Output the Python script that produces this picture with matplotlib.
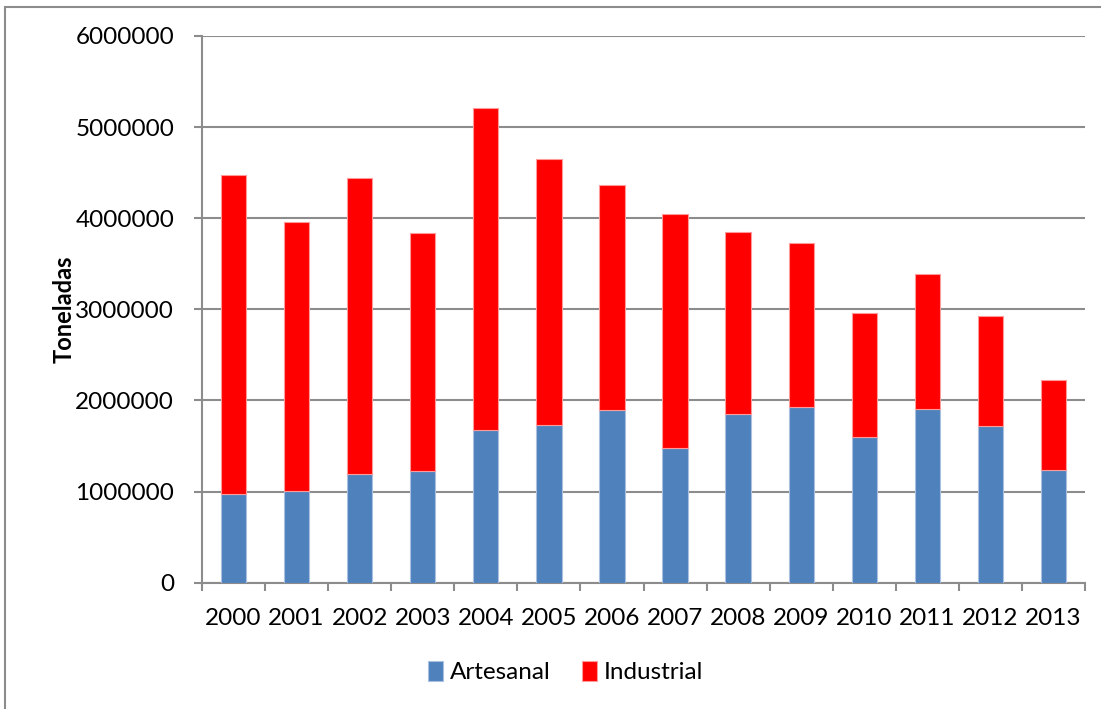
import matplotlib.pyplot as plt
from matplotlib.patches import Rectangle
import numpy as np

anios = ['2000', '2001', '2002', '2003', '2004', '2005', '2006',
         '2007', '2008', '2009', '2010', '2011', '2012', '2013']
artesanal = [977000, 1010000, 1190000, 1230000, 1680000, 1730000, 1890000,
             1475000, 1850000, 1930000, 1600000, 1910000, 1720000, 1240000]
total = [4475000, 3960000, 4440000, 3840000, 5210000, 4650000, 4370000,
         4050000, 3850000, 3730000, 2960000, 3390000, 2930000, 2220000]
industrial = [t - a for t, a in zip(total, artesanal)]

plt.rcParams['font.family'] = ['Lato', 'DejaVu Sans']

fig = plt.figure(figsize=(11.01, 7.09), dpi=100)
ax = fig.add_axes([202 / 1101, 1 - 582.7 / 709, 883 / 1101, (582.7 - 36) / 709])

x = np.arange(len(anios))
ax.bar(x, artesanal, width=0.4, color='#4F81BD', edgecolor='#A9C0E0',
       linewidth=0.8, label='Artesanal', zorder=3)
ax.bar(x, industrial, width=0.4, bottom=artesanal, color='#FF0000',
       edgecolor='#FF9A9A', linewidth=0.8, label='Industrial', zorder=3)

ax.set_xlim(-0.5, len(anios) - 0.5)
ax.set_ylim(0, 6000000)
ax.set_yticks(np.arange(0, 6000001, 1000000))
ax.set_yticklabels([str(v) for v in range(0, 6000001, 1000000)], fontsize=17.5)
ax.yaxis.grid(True, color='#8C8C8C', linewidth=1.5, zorder=0)

ax.set_xticks(x)
ax.set_xticklabels(anios, fontsize=17.5)
ax.set_xticks(np.arange(-0.5, len(anios)), minor=True)
ax.tick_params(axis='x', which='major', length=0, pad=18)
ax.tick_params(axis='x', which='minor', length=6, width=1.5, color='#8C8C8C')
ax.tick_params(axis='y', length=6, width=1.5, color='#8C8C8C', pad=14)

for s in ['top', 'right']:
    ax.spines[s].set_visible(False)
for s in ['left', 'bottom']:
    ax.spines[s].set_color('#8C8C8C')
    ax.spines[s].set_linewidth(1.5)

ax.set_ylabel('Toneladas', fontsize=17, fontweight='bold', labelpad=0)

ax.legend(loc='center', bbox_to_anchor=(0.412, -0.163), ncol=2, frameon=False,
          fontsize=17.5, handlelength=0.6, handleheight=0.9, handletextpad=0.3,
          columnspacing=1.3)

# marco del grafico
fig.patches.append(Rectangle((5 / 1101, -0.1), 1.2, 1 - 7 / 709 + 0.1,
                             transform=fig.transFigure, fill=False,
                             edgecolor='#8C8C8C', linewidth=1.5))

fig.savefig('out.png', dpi=100)
